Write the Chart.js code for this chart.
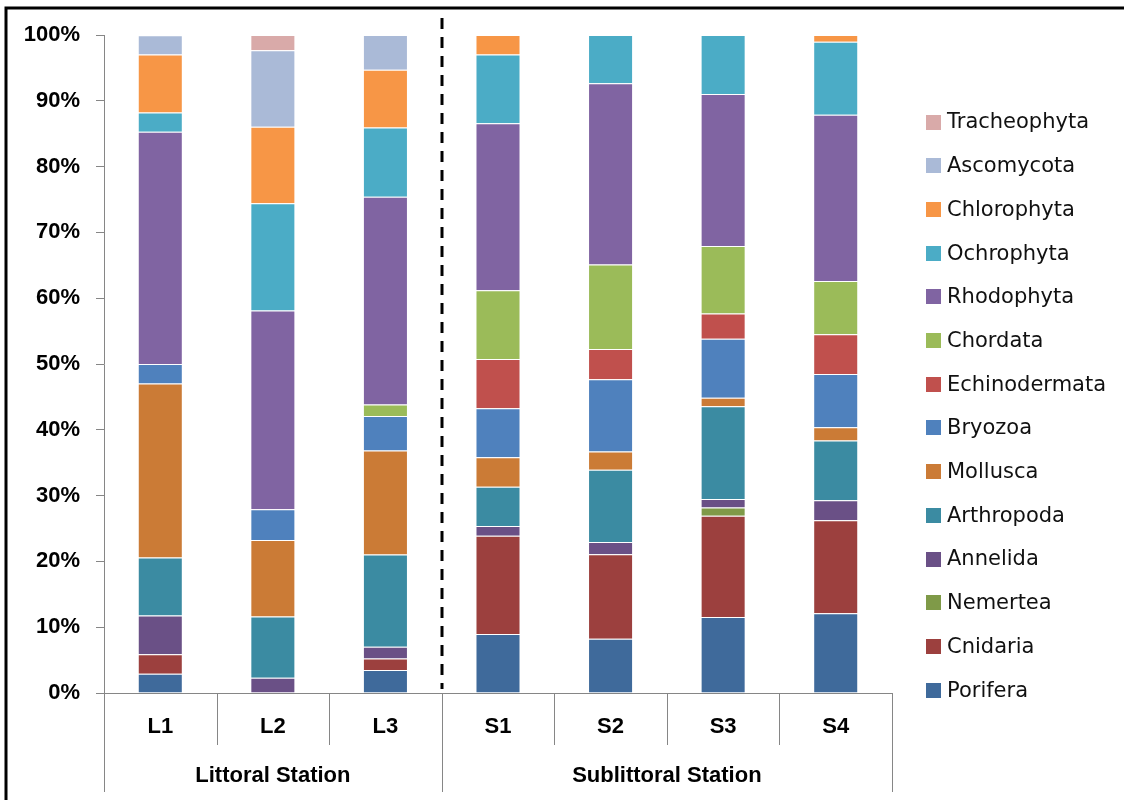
<!DOCTYPE html>
<html>
<head>
<meta charset="utf-8">
<script src="https://cdn.jsdelivr.net/npm/chart.js@4.4.0/dist/chart.umd.min.js"></script>
<style>
  body { margin: 0; background: #fff; }
  canvas { display: block; }
</style>
</head>
<body>
<canvas id="phylaChart" width="1124" height="800"></canvas>
<script>
const stations = ["L1", "L2", "L3", "S1", "S2", "S3", "S4"];
const stationGroups = ["Littoral Station", "Sublittoral Station"];
const groupSizes = [3, 4];
const yTicks = [0, 10, 20, 30, 40, 50, 60, 70, 80, 90, 100];

// relative abundance (%), bottom of the stack first
const porifera = [2.94, 0, 3.51, 8.96, 8.26, 11.54, 12.12];
const cnidaria = [2.94, 0, 1.75, 14.93, 12.84, 15.38, 14.14];
const nemertea = [0, 0, 0, 0, 0, 1.28, 0];
const annelida = [5.88, 2.33, 1.75, 1.49, 1.83, 1.28, 3.03];
const arthropoda = [8.82, 9.3, 14.04, 5.97, 11.01, 14.1, 9.09];
const mollusca = [26.47, 11.63, 15.79, 4.48, 2.75, 1.28, 2.02];
const bryozoa = [2.94, 4.65, 5.26, 7.46, 11.01, 8.97, 8.08];
const echinodermata = [0, 0, 0, 7.46, 4.59, 3.85, 6.06];
const chordata = [0, 0, 1.75, 10.45, 12.84, 10.26, 8.08];
const rhodophyta = [35.29, 30.23, 31.58, 25.37, 27.52, 23.08, 25.25];
const ochrophyta = [2.94, 16.28, 10.53, 10.45, 7.34, 8.97, 11.11];
const chlorophyta = [8.82, 11.63, 8.77, 2.99, 0, 0, 1.01];
const ascomycota = [2.94, 11.63, 5.26, 0, 0, 0, 0];
const tracheophyta = [0, 2.33, 0, 0, 0, 0, 0];

const series = [
  ["Porifera", porifera, "#3F6A9B"],
  ["Cnidaria", cnidaria, "#9C403E"],
  ["Nemertea", nemertea, "#7F9A48"],
  ["Annelida", annelida, "#6A5086"],
  ["Arthropoda", arthropoda, "#3B8BA2"],
  ["Mollusca", mollusca, "#CB7B36"],
  ["Bryozoa", bryozoa, "#4F81BD"],
  ["Echinodermata", echinodermata, "#C0504D"],
  ["Chordata", chordata, "#9BBB59"],
  ["Rhodophyta", rhodophyta, "#8064A2"],
  ["Ochrophyta", ochrophyta, "#4BACC6"],
  ["Chlorophyta", chlorophyta, "#F79646"],
  ["Ascomycota", ascomycota, "#AABAD7"],
  ["Tracheophyta", tracheophyta, "#D9AAA9"],
];

const axisGray = "#868686";

// frame, dashed divider, grouped category axis and legend
const decorations = {
  id: "decorations",
  afterDraw(chart) {
    const ctx = chart.ctx;
    const area = chart.chartArea;
    const x = chart.scales.x;
    const step = (area.right - area.left) / stations.length;

    ctx.save();
    // outer frame (left + top)
    ctx.strokeStyle = "#000";
    ctx.lineWidth = 3;
    ctx.beginPath();
    ctx.moveTo(6, 800);
    ctx.lineTo(6, 8);
    ctx.lineTo(1124, 8);
    ctx.stroke();

    // x axis line and separators
    ctx.strokeStyle = axisGray;
    ctx.lineWidth = 1;
    ctx.beginPath();
    ctx.moveTo(area.left - 8, area.bottom + 0.5);
    ctx.lineTo(area.right, area.bottom + 0.5);
    let boundary = 0;
    const groupEdges = [0];
    groupSizes.forEach((n) => {
      boundary += n;
      groupEdges.push(boundary);
    });
    for (let i = 0; i <= stations.length; i++) {
      const px = Math.round(area.left + i * step) + 0.5;
      const long = groupEdges.includes(i);
      ctx.moveTo(px, area.bottom);
      ctx.lineTo(px, long ? 792 : 745);
    }
    ctx.stroke();

    // station labels
    ctx.fillStyle = "#000";
    ctx.textAlign = "center";
    ctx.textBaseline = "middle";
    ctx.font = "bold 22px 'Liberation Sans', Arial, sans-serif";
    stations.forEach((s, i) => {
      ctx.fillText(s, x.getPixelForValue(i), 727);
    });
    stationGroups.forEach((g, k) => {
      const x0 = area.left + groupEdges[k] * step;
      const x1 = area.left + groupEdges[k + 1] * step;
      ctx.fillText(g, (x0 + x1) / 2, 776);
    });

    // dashed divider between littoral and sublittoral
    const divX = Math.round(area.left + groupSizes[0] * step);
    ctx.strokeStyle = "#000";
    ctx.lineWidth = 3;
    ctx.setLineDash([11, 8]);
    ctx.beginPath();
    ctx.moveTo(divX, 18);
    ctx.lineTo(divX, area.bottom - 4);
    ctx.stroke();
    ctx.setLineDash([]);

    // legend, reversed order
    ctx.textAlign = "left";
    ctx.font = "21px 'DejaVu Sans', sans-serif";
    const ds = chart.data.datasets;
    for (let k = 0; k < ds.length; k++) {
      const d = ds[ds.length - 1 - k];
      const cy = 122 + k * 43.7;
      ctx.fillStyle = d.backgroundColor;
      ctx.fillRect(926, Math.round(cy - 7.5), 15, 15);
      ctx.fillStyle = "#111";
      ctx.fillText(d.label, 947, cy + 1);
    }
    ctx.restore();
  },
};

new Chart(document.getElementById("phylaChart"), {
  type: "bar",
  data: {
    labels: stations,
    datasets: series.map(([label, values, color]) => ({
      label: label,
      data: values,
      backgroundColor: color,
      borderColor: "rgba(255,255,255,0.35)",
      borderWidth: 1,
      barPercentage: 0.4,
      categoryPercentage: 1.0,
    })),
  },
  options: {
    responsive: false,
    animation: false,
    layout: {
      padding: { left: 0, right: 232, top: 35, bottom: 107 },
    },
    plugins: {
      legend: { display: false },
      tooltip: { enabled: false },
    },
    scales: {
      x: {
        stacked: true,
        display: false,
      },
      y: {
        stacked: true,
        min: 0,
        max: 100,
        afterFit(scale) {
          scale.width = 104;
        },
        afterBuildTicks(scale) {
          scale.ticks = yTicks.map((v) => ({ value: v }));
        },
        grid: {
          drawOnChartArea: false,
          color: axisGray,
          tickLength: 8,
        },
        border: { color: axisGray, width: 1 },
        ticks: {
          padding: 16,
          color: "#000",
          font: { family: "'Liberation Sans', Arial, sans-serif", size: 22, weight: "bold" },
          callback: (v) => v + "%",
        },
      },
    },
  },
  plugins: [decorations],
});
</script>
</body>
</html>
